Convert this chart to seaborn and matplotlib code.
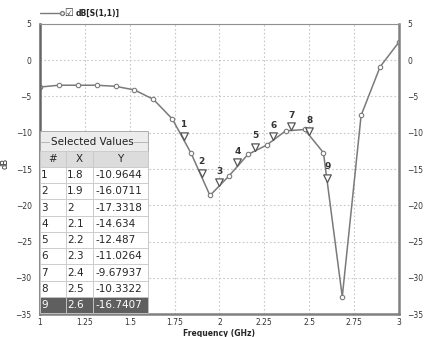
import numpy as np
import pandas as pd
import matplotlib
matplotlib.use("Agg")
import matplotlib.pyplot as plt
from matplotlib.path import Path
from matplotlib.patches import Rectangle
import seaborn as sns

# -------------------------------
# Data
# -------------------------------
freq = [1.0, 1.105, 1.211, 1.316, 1.421, 1.526, 1.632, 1.737, 1.842, 1.947,
        2.053, 2.158, 2.263, 2.368, 2.474, 2.579, 2.684, 2.789, 2.895, 3.0]
s11_db = [-3.7, -3.45, -3.45, -3.45, -3.6, -4.1, -5.4, -8.1, -12.85, -18.65,
          -15.95, -13.0, -11.7, -9.75, -9.55, -12.75, -32.6, -7.6, -0.9, 2.5]

marker_ids = [1, 2, 3, 4, 5, 6, 7, 8, 9]
marker_x = [1.8, 1.9, 2.0, 2.1, 2.2, 2.3, 2.4, 2.5, 2.6]
marker_y = [-10.9644, -16.0711, -17.3318, -14.634, -12.487,
            -11.0264, -9.67937, -10.3322, -16.7407]
marker_x_txt = ["1.8", "1.9", "2", "2.1", "2.2", "2.3", "2.4", "2.5", "2.6"]

x_ticks = [1, 1.25, 1.5, 1.75, 2, 2.25, 2.5, 2.75, 3]
x_tick_labels = ["1", "1.25", "1.5", "1.75", "2", "2.25", "2.5", "2.75", "3"]
y_ticks = [5, 0, -5, -10, -15, -20, -25, -30, -35]

df = pd.DataFrame({"freq": freq, "db": s11_db})
mk = pd.DataFrame({"freq": marker_x, "db": marker_y})

# -------------------------------
# Figure
# -------------------------------
sns.set_style("white")
plt.rcParams["font.family"] = ["DejaVu Sans"]

fig = plt.figure(figsize=(4.27, 3.37), dpi=100)
ax = fig.add_axes([0.0937, 0.068, 0.8407, 0.861])

line_col = "#7a7a7a"
sns.lineplot(data=df, x="freq", y="db", ax=ax, color=line_col, linewidth=1.1,
             marker="o", markersize=3.2, markerfacecolor="white",
             markeredgecolor=line_col, markeredgewidth=0.8, label="_nolegend_")

# down triangle with its tip on the data point
tri = Path([(-1, 2), (1, 2), (0, 0), (-1, 2)],
           [Path.MOVETO, Path.LINETO, Path.LINETO, Path.CLOSEPOLY])
sns.scatterplot(data=mk, x="freq", y="db", ax=ax, marker=tri, s=120,
                facecolor="white", edgecolor="#555555", linewidth=0.9, zorder=5)
for i, x, y in zip(marker_ids, marker_x, marker_y):
    ax.annotate(str(i), (x, y), xytext=(0, 7.5), textcoords="offset points",
                ha="center", va="bottom", fontsize=6.5, fontweight="bold",
                color="#333333")

ax.set_xlim(1, 3)
ax.set_ylim(-35, 5)
ax.set_xticks(x_ticks)
ax.set_xticklabels(x_tick_labels)
ax.set_yticks(y_ticks)
ax.tick_params(axis="both", labelsize=5.5, length=0, colors="#333333")
ax.tick_params(axis="x", pad=3)
ax.tick_params(axis="y", pad=6, right=True, labelright=True)
ax.grid(True, color="#c8c8c8", linestyle=(0, (1.5, 2)), linewidth=0.8)

for side in ["left", "bottom", "right"]:
    ax.spines[side].set_color("#808080")
    ax.spines[side].set_linewidth(1.8)
ax.spines["left"].set_color("#666666")
ax.spines["top"].set_color("#909090")
ax.spines["top"].set_linewidth(0.8)

ax.set_xlabel("Frequency (GHz)", fontsize=5.5, fontweight="bold", labelpad=1)
ax.set_ylabel("dB", fontsize=6)
ax.yaxis.set_label_coords(-0.085, 0.52)
fig.text(0.994, 0.515, "dB", rotation=270, fontsize=6, ha="left", va="center")

# legend row above the plot
fig.add_artist(plt.Line2D([0.094, 0.145], [0.96, 0.96], color=line_col,
                          linewidth=1, marker="o", markevery=[1],
                          markersize=2.8, markerfacecolor="white",
                          markeredgecolor=line_col))
fig.text(0.15, 0.96, "\u2611", fontsize=7, va="center", color="#333333")
fig.text(0.178, 0.96, "dB[S(1,1)]", fontsize=5.5, fontweight="bold",
         va="center", color="#222222")

# -------------------------------
# "Selected Values" table
# -------------------------------
tbl_w = 0.301
ax.add_patch(Rectangle((0, 0.003), tbl_w, 0.628, transform=ax.transAxes,
                       facecolor="#ececec", edgecolor="#a0a0a0",
                       linewidth=0.6, zorder=6))
ax.plot([0.0, tbl_w], [0.593, 0.593], transform=ax.transAxes,
        color="#b0b0b0", linewidth=0.6, zorder=7)
ax.text(0.03, 0.593, "Selected Values", transform=ax.transAxes, fontsize=7.5,
        va="center", ha="left", color="#222222", zorder=8,
        bbox=dict(facecolor="#ececec", edgecolor="none", pad=0.5))

rows = [[str(i), xt, f"{y:g}"] for i, xt, y in zip(marker_ids, marker_x_txt, marker_y)]
table = ax.table(cellText=rows, colLabels=["#", "X", "Y"],
                 colWidths=[0.24, 0.25, 0.51], cellLoc="left",
                 bbox=[0.0, 0.003, tbl_w, 0.56], zorder=9)
table.auto_set_font_size(False)
table.set_fontsize(7.5)
for (r, c), cell in table.get_celld().items():
    cell.set_edgecolor("#c8c8c8")
    cell.set_linewidth(0.6)
    cell.PAD = 0.04
    if r == 0:
        cell.set_facecolor("#dcdcdc")
        cell.get_text().set_ha("center")
    elif r == len(rows):
        cell.set_facecolor("#5f5f5f")
        cell.get_text().set_color("white")
    else:
        cell.set_facecolor("white")

fig.savefig("out.png", dpi=100)
